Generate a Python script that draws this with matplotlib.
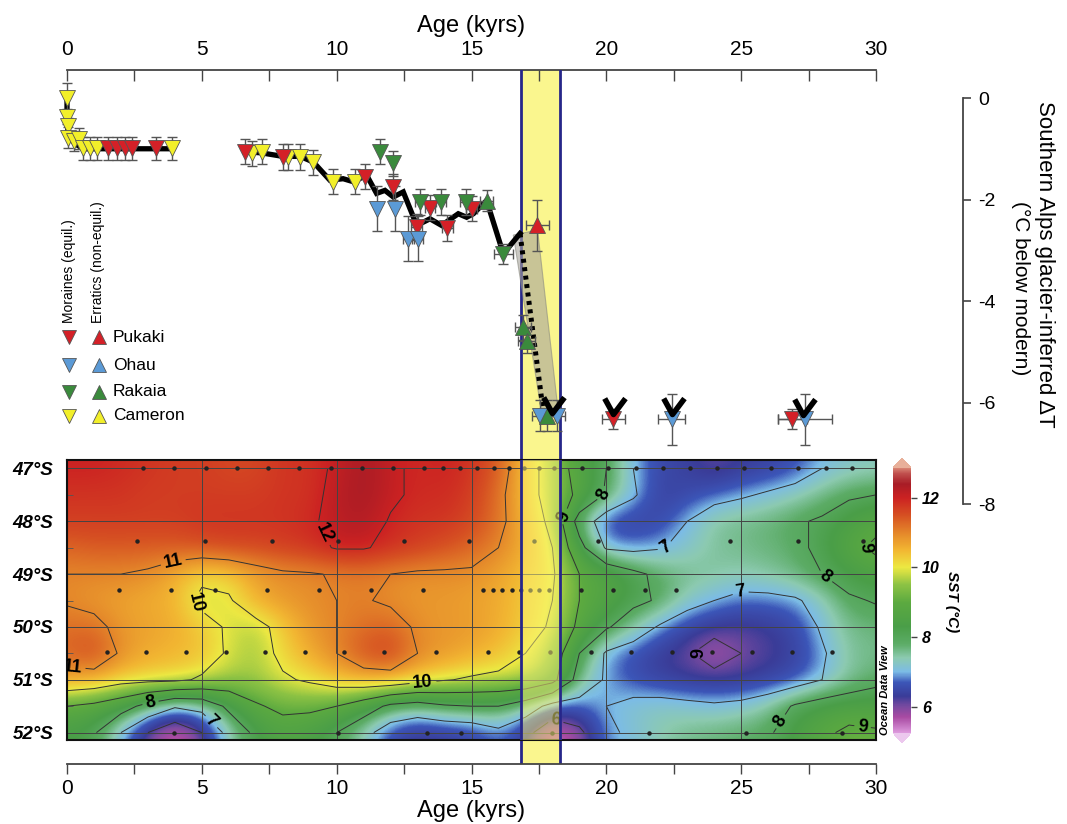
import numpy as np
import matplotlib
matplotlib.use("Agg")
from matplotlib import pyplot as plt
from matplotlib.colors import LinearSegmentedColormap, Normalize
from matplotlib.path import Path
import matplotlib.cm as cm

W, H = 1067, 824
plt.rcParams['font.family'] = ['Liberation Sans', 'DejaVu Sans']

# ---------------- glacier-inferred temperature (deg C below modern) ----------------
# moraines (equilibrium), one set per catchment: age (kyr), dT, y-error, x-error
pukaki_m_age = [1.53, 1.84, 2.15, 2.4, 3.3, 6.6, 8.02, 11.05, 12.08, 12.97, 13.46, 14.11, 15.0, 20.26, 26.9]
pukaki_m_dt = [-0.99, -0.99, -0.99, -0.99, -0.99, -1.06, -1.16, -1.55, -1.75, -2.54, -2.16, -2.56, -2.18, -6.33, -6.33]
pukaki_m_yerr = [0.23, 0.23, 0.23, 0.23, 0.23, 0.25, 0.25, 0.25, 0.25, 0.25, 0.25, 0.25, 0.25, 0.2, 0.2]
pukaki_m_xerr = [0, 0, 0, 0, 0, 0, 0, 0, 0, 0.2, 0.2, 0.2, 0.2, 0.43, 0.55]

ohau_m_age = [11.48, 12.16, 12.66, 13.0, 17.54, 18.18, 22.42, 27.36]
ohau_m_dt = [-2.18, -2.18, -2.77, -2.77, -6.26, -6.26, -6.33, -6.33]
ohau_m_yerr = [0.45, 0.45, 0.45, 0.45, 0.3, 0.3, 0.5, 0.5]
ohau_m_xerr = [0, 0, 0.2, 0.2, 0.3, 0.3, 0.5, 1.0]

rakaia_m_age = [11.6, 12.1, 13.09, 13.87, 14.79, 16.18]
rakaia_m_dt = [-1.06, -1.29, -2.05, -2.05, -2.05, -3.07]
rakaia_m_yerr = [0.25, 0.25, 0.25, 0.25, 0.25, 0.2]
rakaia_m_xerr = [0, 0, 0.2, 0.2, 0.2, 0.35]

cameron_m_age = [0.0, 0.0, 0.02, 0.05, 0.25, 0.45, 0.6, 0.85, 1.1, 3.88, 6.85, 7.22, 8.21, 8.64, 9.13, 9.85, 10.68]
cameron_m_dt = [0.0, -0.37, -0.55, -0.78, -0.85, -0.8, -0.99, -0.99, -0.99, -0.99, -1.09, -1.06, -1.16, -1.16, -1.27, -1.65, -1.65]
cameron_m_yerr = [0.3, 0.15, 0.15, 0.2, 0.2, 0.2, 0.23, 0.23, 0.23, 0.23, 0.25, 0.25, 0.25, 0.25, 0.25, 0.25, 0.25]
cameron_m_xerr = [0] * 17

# erratics (non-equilibrium)
pukaki_e_age = [17.44]
pukaki_e_dt = [-2.51]
pukaki_e_yerr = [0.5]
pukaki_e_xerr = [0.43]

rakaia_e_age = [15.56, 16.9, 17.04, 17.79]
rakaia_e_dt = [-2.02, -4.52, -4.78, -6.26]
rakaia_e_yerr = [0.2, 0.25, 0.25, 0.3]
rakaia_e_xerr = [0.25, 0.3, 0.3, 0.3]

# best-estimate temperature path
path1_age = [0.0, 0.0, 0.05, 0.3, 0.6, 1.0, 2.4, 3.3, 3.9]
path1_dt = [0.0, -0.45, -0.76, -0.9, -1.0, -1.0, -1.0, -1.0, -1.0]
path2_age = [6.6, 7.2, 8.0, 8.64, 9.13, 9.75, 10.24, 10.62, 11.11, 11.48, 11.79, 12.1, 12.47,
             12.97, 13.46, 13.89, 14.51, 14.82, 15.07, 15.56, 16.18, 16.8]
path2_dt = [-1.06, -1.08, -1.15, -1.15, -1.26, -1.62, -1.59, -1.65, -1.52, -1.88, -1.82, -1.95, -1.85,
            -2.51, -2.38, -2.51, -2.28, -2.35, -2.28, -2.02, -3.07, -2.67]
jump_age = [16.8, 17.66]
jump_dt = [-2.67, -6.17]
jump_env_age = [16.55, 17.45, 18.2, 17.6]
jump_env_dt = [-2.7, -2.6, -6.1, -6.2]

# minimum-age flags
flag_age = [17.97, 20.26, 22.42, 27.3]
flag_dt = [-6.2, -6.22, -6.22, -6.25]

# termination interval
band_start, band_end = 16.82, 18.28

# ---------------- sea surface temperature section ----------------
sst_age = np.arange(0, 31)
sst_lat = [47.0, 47.5, 48.0, 48.5, 49.0, 49.5, 50.0, 50.5, 51.0, 51.5, 52.0]
sst_47_0 = [12.0, 12.0, 11.9, 11.8, 11.7, 11.7, 11.6, 11.6, 11.8, 11.8, 12.1, 12.4, 12.1, 11.9, 12.0, 11.8,
            11.4, 10.4, 9.6, 8.6, 8.0, 7.0, 6.5, 6.4, 6.1, 6.3, 6.4, 6.6, 7.0, 7.2, 7.3]
sst_47_5 = [11.8, 11.8, 11.8, 11.7, 11.7, 11.7, 11.7, 11.7, 11.8, 11.8, 12.2, 12.4, 12.1, 11.9, 11.9, 11.7,
            11.2, 10.4, 9.6, 8.8, 7.9, 7.1, 6.4, 6.5, 6.7, 6.9, 7.1, 7.3, 7.6, 7.9, 8.0]
sst_48_0 = [11.7, 11.7, 11.7, 11.7, 11.7, 11.8, 11.8, 11.8, 11.8, 11.9, 12.2, 12.3, 11.95, 11.8, 11.8, 11.6,
            11.2, 10.5, 9.8, 7.6, 6.5, 6.4, 6.5, 7.0, 7.5, 7.6, 7.7, 7.9, 8.1, 8.4, 8.7]
sst_48_5 = [11.3, 11.4, 11.4, 11.4, 11.4, 11.5, 11.6, 11.6, 11.7, 11.8, 12.05, 12.05, 11.85, 11.7, 11.5, 11.3,
            11.0, 10.6, 10.0, 8.3, 6.9, 6.8, 6.95, 7.2, 7.5, 7.6, 7.7, 7.8, 8.2, 8.7, 9.2]
sst_49_0 = [11.0, 11.0, 11.0, 10.9, 10.6, 10.2, 10.3, 10.7, 10.9, 10.95, 11.05, 11.1, 11.0, 10.9, 10.9, 10.9,
            10.7, 10.4, 10.1, 9.0, 8.7, 8.2, 7.8, 7.6, 7.5, 7.4, 7.5, 7.7, 8.0, 8.3, 8.5]
sst_49_5 = [10.95, 10.8, 10.7, 10.6, 10.5, 9.8, 9.9, 10.6, 10.8, 10.9, 11.0, 11.05, 10.9, 10.8, 10.8, 10.7,
            10.6, 10.3, 10.0, 9.0, 8.6, 8.2, 7.9, 7.3, 7.0, 6.8, 6.8, 6.9, 7.3, 7.9, 8.05]
sst_50_0 = [11.2, 11.2, 10.8, 10.7, 10.6, 10.3, 9.9, 9.7, 10.3, 10.8, 11.0, 11.2, 11.3, 10.9, 10.8, 10.8,
            10.6, 10.3, 9.9, 8.8, 8.1, 7.5, 6.9, 6.5, 6.3, 6.2, 6.3, 6.5, 7.1, 7.6, 7.7]
sst_50_5 = [11.3, 11.6, 10.9, 10.6, 10.5, 10.4, 9.9, 9.6, 10.2, 10.6, 11.0, 11.5, 11.7, 11.0, 10.8, 10.6,
            10.4, 10.0, 9.6, 8.0, 6.9, 6.6, 6.3, 6.1, 5.6, 6.0, 6.2, 6.4, 6.9, 7.5, 7.6]
sst_51_0 = [10.7, 10.6, 10.3, 10.2, 10.15, 9.9, 9.6, 9.6, 9.9, 10.1, 10.4, 10.6, 10.6, 10.3, 10.05, 9.9,
            9.8, 9.8, 9.3, 7.6, 6.9, 6.6, 6.4, 6.3, 6.3, 6.3, 6.4, 6.6, 7.0, 7.5, 7.8]
sst_51_5 = [9.0, 8.8, 8.4, 7.7, 7.1, 7.3, 8.2, 8.9, 9.2, 9.2, 9.0, 8.5, 7.8, 7.6, 7.9, 8.0,
            8.0, 7.5, 6.7, 6.7, 7.0, 7.2, 7.3, 7.2, 7.1, 7.2, 7.5, 8.1, 8.4, 8.5, 8.5]
sst_52_0 = [8.3, 8.1, 7.0, 6.0, 5.3, 6.0, 7.3, 8.2, 8.6, 8.4, 8.0, 7.3, 6.5, 6.2, 6.3, 6.4,
            6.8, 6.3, 5.3, 5.8, 6.9, 7.1, 7.4, 7.6, 7.7, 7.8, 7.9, 8.4, 8.8, 9.2, 9.1]
sst = np.array([sst_47_0, sst_47_5, sst_48_0, sst_48_5, sst_49_0, sst_49_5,
                sst_50_0, sst_50_5, sst_51_0, sst_51_5, sst_52_0])

# core sample positions along each latitude band
samples = [
    (47.0, [2.82, 3.97, 5.15, 6.3, 7.45, 8.6, 9.79, 10.94, 12.09, 13.24, 13.93, 14.57, 15.19, 15.84, 16.4,
            16.96, 17.51, 18.07, 19.09, 20.07, 21.09, 22.09, 23.1, 24.09, 25.1, 26.1, 27.11, 28.13, 29.12]),
    (48.38, [2.6, 5.1, 7.6, 10.05, 12.5, 14.9, 17.3, 19.7, 22.1, 24.6, 27.1, 29.5]),
    (49.3, [1.93, 3.86, 5.49, 7.42, 9.34, 11.27, 13.2, 15.43, 15.8, 16.13, 16.5, 16.83, 17.17, 17.5,
            17.87, 19.06, 20.24, 21.43, 22.6]),
    (50.48, [1.47, 2.93, 4.41, 5.88, 7.34, 8.82, 10.27, 11.75, 13.68, 15.6, 16.76, 17.9, 19.43, 20.91,
             22.43, 23.91, 25.4, 26.88, 28.37]),
    (52.0, [3.97, 10.05, 13.35, 14.6, 17.98, 21.58, 25.17, 28.74]),
]

red, blue, green, yellow = '#d42027', '#5b9ad6', '#3a8a3c', '#f2ef2a'


def fx(x):
    return x / W


def fy(y):
    return 1 - y / H


def draw_group(ax, ages, dts, yerr, xerr, color, marker):
    ax.errorbar(ages, dts, yerr=yerr, xerr=xerr, fmt='none', ecolor='#555555',
                elinewidth=1, capsize=3.5, capthick=1, zorder=3, clip_on=False)
    ax.plot(ages, dts, linestyle='none', marker=marker, ms=11, mfc=color,
            mec='#555555', mew=0.6, zorder=4, clip_on=False)


fig = plt.figure(figsize=(W / 100, H / 100), dpi=100)

# ---------------- upper panel: glacier record ----------------
ax = fig.add_axes([fx(67), fy(764), 809 / W, 694 / H])
ax.set_xlim(0, 30)
ax.set_ylim(-13.123, 0.552)
ax.axvspan(band_start, band_end, color='#faf68e', zorder=0)
for xb in (band_start, band_end):
    ax.axvline(xb, color='#26268a', lw=2, zorder=1)

ax.fill(jump_env_age, jump_env_dt, facecolor='#a8a49c', alpha=0.6,
        edgecolor='#8a8a80', lw=0.8, zorder=1.5)
ax.plot(path1_age, path1_dt, color='black', lw=3.8, zorder=2, solid_joinstyle='miter', clip_on=False)
ax.plot(path2_age, path2_dt, color='black', lw=3.8, zorder=2, solid_joinstyle='miter')
ax.plot(jump_age, jump_dt, color='black', lw=3.6, linestyle=(0, (0.8, 0.9)),
        dash_capstyle='butt', zorder=2)

draw_group(ax, cameron_m_age, cameron_m_dt, cameron_m_yerr, cameron_m_xerr, yellow, 'v')
draw_group(ax, pukaki_m_age, pukaki_m_dt, pukaki_m_yerr, pukaki_m_xerr, red, 'v')
draw_group(ax, rakaia_m_age, rakaia_m_dt, rakaia_m_yerr, rakaia_m_xerr, green, 'v')
draw_group(ax, ohau_m_age, ohau_m_dt, ohau_m_yerr, ohau_m_xerr, blue, 'v')
draw_group(ax, rakaia_e_age, rakaia_e_dt, rakaia_e_yerr, rakaia_e_xerr, green, '^')
draw_group(ax, pukaki_e_age, pukaki_e_dt, pukaki_e_yerr, pukaki_e_xerr, red, '^')

# open-ended "at least this cold" flags
vmark = Path([(-0.55, 1.0), (0.0, 0.0), (0.75, 1.0)],
             [Path.MOVETO, Path.LINETO, Path.LINETO])
ax.plot(flag_age, flag_dt, linestyle='none', marker=vmark, ms=23, mew=4,
        mec='black', mfc='none', zorder=5)

for s in ('left', 'top'):
    ax.spines[s].set_visible(False)
ax.spines['bottom'].set_color('#444444')
ax.spines['bottom'].set_linewidth(1.3)
ax.set_xticks(np.arange(0, 31, 5))
ax.set_xticks(np.arange(0, 31, 2.5), minor=True)
ax.tick_params(axis='x', which='both', direction='out', length=7, width=1,
               color='#444444', labelsize=15, pad=4)
ax.set_xlabel('Age (kyrs)', fontsize=17, labelpad=1)

sec = ax.secondary_xaxis('top')
sec.set_xticks(np.arange(0, 31, 5))
sec.set_xticks(np.arange(0, 31, 2.5), minor=True)
sec.tick_params(axis='x', which='both', direction='in', length=8, width=1,
                color='#444444', labelsize=15, pad=8)
sec.spines['top'].set_color('#444444')
sec.spines['top'].set_linewidth(1.3)
sec.set_xlabel('Age (kyrs)', fontsize=17, labelpad=6)

ax.spines['right'].set_position(('axes', (963 - 67) / 809))
ax.spines['right'].set_bounds(-8, 0)
ax.spines['right'].set_color('#444444')
ax.spines['right'].set_linewidth(1.3)
ax.yaxis.set_ticks_position('right')
ax.set_yticks([0, -2, -4, -6, -8])
ax.set_yticklabels(['0', '-2', '-4', '-6', '-8'])
ax.tick_params(axis='y', direction='out', length=6, width=1.2, color='#444444',
               labelsize=14, pad=5)
fig.text(fx(1045), fy(264), 'Southern Alps glacier-inferred \u0394T', rotation=-90,
         ha='center', va='center', fontsize=16)
fig.text(fx(1021), fy(288), '(\u00b0C below modern)', rotation=-90,
         ha='center', va='center', fontsize=15)

# legend drawn by hand: moraines column, erratics column
fig.text(fx(69), fy(323), 'Moraines (equil.)', rotation=90, ha='center', va='bottom', fontsize=10)
fig.text(fx(98), fy(323), 'Erratics (non-equil.)', rotation=90, ha='center', va='bottom', fontsize=10)
legend_names = ['Pukaki', 'Ohau', 'Rakaia', 'Cameron']
legend_colors = [red, blue, green, yellow]
legend_rows = [337, 365, 392, 416]
for name, col, yrow in zip(legend_names, legend_colors, legend_rows):
    ax.plot([fx(69)], [fy(yrow)], marker='v', ms=10, mfc=col, mec='#555555', mew=0.6,
            transform=fig.transFigure, clip_on=False)
    ax.plot([fx(99)], [fy(yrow)], marker='^', ms=10, mfc=col, mec='#555555', mew=0.6,
            transform=fig.transFigure, clip_on=False)
    fig.text(fx(113), fy(yrow), name, ha='left', va='center', fontsize=12.5)

# ---------------- lower panel: SST section ----------------
stops = [
    (5.25, '#dc98dc'), (5.7, '#a84aa2'), (6.0, '#7a4aa0'), (6.3, '#3a3c98'), (6.7, '#3c56b8'),
    (7.0, '#7cbce6'), (7.4, '#8ccab0'), (7.8, '#5cac66'), (8.3, '#4a9e48'), (9.0, '#5caa40'),
    (9.5, '#8cc244'), (10.0, '#ece842'), (10.5, '#f2b632'), (11.0, '#e4862a'), (11.5, '#d65022'),
    (12.0, '#cc2222'), (12.4, '#a81c26'), (12.7, '#c0504e'), (12.85, '#d68070'),
]
vmin, vmax = stops[0][0], stops[-1][0]
sst_cmap = LinearSegmentedColormap.from_list(
    'odv', [((v - vmin) / (vmax - vmin), c) for v, c in stops], N=512)
sst_cmap.set_under('#ecc8ee')
sst_cmap.set_over('#e8b09a')
norm = Normalize(vmin=vmin, vmax=vmax)

ax2 = fig.add_axes([fx(67), fy(740), 809 / W, 280 / H])
ax2.imshow(sst, cmap=sst_cmap, norm=norm, extent=(-0.5, 30.5, 52.25, 46.75),
           interpolation='bicubic', interpolation_stage='data', aspect='auto', zorder=0)
cs = ax2.contour(sst_age, sst_lat, sst, levels=[6, 7, 8, 9, 10, 11, 12],
                 colors='#333333', linewidths=0.7, zorder=2)
ax2.clabel(cs, fmt='%d', fontsize=13, inline=True, inline_spacing=3,
           manual=[(9.2, 48.3), (3.9, 48.7), (4.9, 49.5), (0.2, 50.85), (13.2, 51.04),
                   (3.1, 51.45), (5.4, 51.77), (20.1, 47.5), (18.5, 47.92), (22.3, 48.65),
                   (24.95, 49.3), (28.0, 49.14), (29.4, 48.55), (23.2, 50.5), (18.2, 51.6),
                   (26.5, 51.8), (29.5, 51.9)])
for t in cs.labelTexts:
    t.set_fontweight('bold')
    t.set_color('black')

for xg in range(5, 30, 5):
    ax2.axvline(xg, color='#444444', lw=0.7, zorder=2)
for yg in range(47, 53):
    ax2.axhline(yg, color='#444444', lw=0.7, zorder=2)
for lat, ages in samples:
    ax2.plot(ages, [lat] * len(ages), linestyle='none', marker='o', ms=2.2,
             color='#222222', zorder=3)

ax2.axvspan(band_start, band_end, color='#fff67a', alpha=0.5, zorder=4)
for xb in (band_start, band_end):
    ax2.axvline(xb, color='#26268a', lw=2, zorder=6)

ax2.set_xlim(0, 30)
ax2.set_ylim(52.14, 46.84)
ax2.set_xticks([])
ax2.set_yticks(range(47, 53))
ax2.set_yticklabels([f'{v}\u00b0S' for v in range(47, 53)], fontsize=13.5,
                    fontweight='bold', style='italic')
ax2.set_yticks(np.arange(47.5, 52, 1.0), minor=True)
ax2.tick_params(axis='y', which='major', length=0, pad=10)
ax2.tick_params(axis='y', which='minor', direction='in', length=4, color='#555555')
for s in ax2.spines.values():
    s.set_linewidth(1.5)
    s.set_color('#111111')

cax = fig.add_axes([fx(893), fy(743), 18 / W, 285 / H])
cb = fig.colorbar(cm.ScalarMappable(norm=norm, cmap=sst_cmap), cax=cax,
                  extend='both', extendfrac=0.038)
cb.outline.set_visible(False)
cb.set_ticks([6, 8, 10, 12])
cb.ax.tick_params(length=4, width=1, color='#444444', pad=4)
cb.ax.set_yticklabels(['6', '8', '10', '12'], fontsize=11.5, fontweight='bold', style='italic')
fig.text(fx(952), fy(602), 'SST (\u00b0C)', rotation=-90, ha='center', va='center',
         fontsize=11, fontweight='bold', style='italic')
fig.text(fx(885), fy(690), 'Ocean Data View', rotation=90, ha='center', va='center',
         fontsize=8, fontweight='bold', style='italic')

fig.savefig('out.png', dpi=100, facecolor='white')
